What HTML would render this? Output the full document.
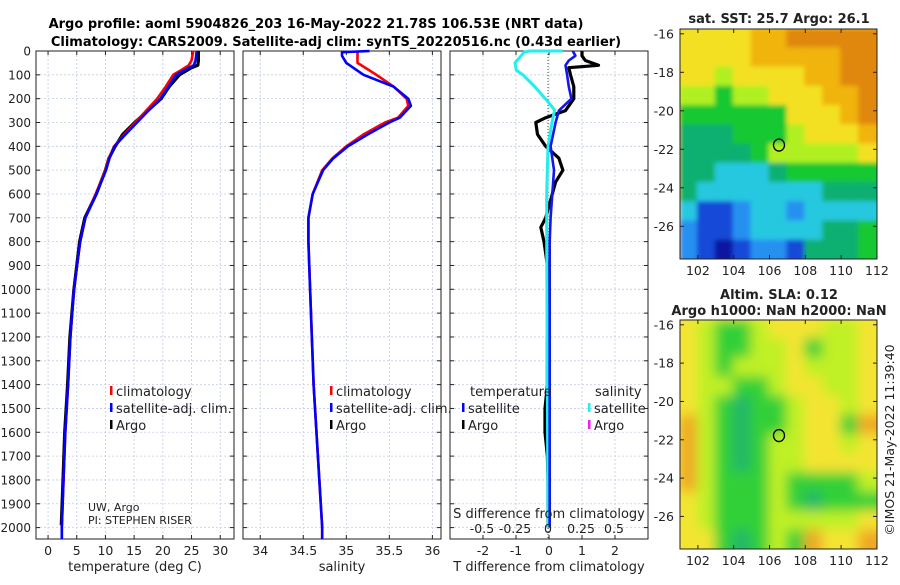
<!DOCTYPE html>
<html><head><meta charset="utf-8"><style>
body{margin:0;background:#fff;font-family:"Liberation Sans","DejaVu Sans",sans-serif;}
svg text{font-family:"DejaVu Sans","Liberation Sans",sans-serif;}
</style></head><body>
<svg id="c" width="900" height="580" xmlns="http://www.w3.org/2000/svg">
<defs>
<filter id="bl" filterUnits="userSpaceOnUse" x="670" y="20" width="220" height="250"><feGaussianBlur stdDeviation="2.5"/></filter>
<filter id="bl2" filterUnits="userSpaceOnUse" x="670" y="310" width="220" height="250"><feGaussianBlur stdDeviation="6"/></filter>
<clipPath id="cm1"><rect x="680" y="29" width="197" height="230"/></clipPath>
<clipPath id="cm2"><rect x="680" y="320" width="197" height="229"/></clipPath>
</defs>
<text x="316" y="28" font-size="13" font-weight="bold" text-anchor="middle">Argo profile: aoml 5904826_203 16-May-2022 21.78S 106.53E (NRT data)</text>
<text x="336" y="46" font-size="13" font-weight="bold" text-anchor="middle">Climatology: CARS2009. Satellite-adj clim: synTS_20220516.nc (0.43d earlier)</text>
</svg>
<script>
const tDepth=[0,40,60,80,100,150,200,250,300,350,400,450,500,600,700,800,1000,1200,1400,1600,1800,2000,2050];
const tClim=[25.3,25.0,24.5,23.2,21.8,20.5,19.0,17.1,15.2,13.3,11.5,10.6,10.0,8.3,6.5,5.6,4.5,3.9,3.5,3.0,2.7,2.4,2.4];
const tSat=[25.9,25.7,25.4,23.8,22.3,21.0,19.6,17.5,15.5,13.5,11.6,10.7,10.1,8.4,6.5,5.6,4.5,3.9,3.5,3.0,2.7,2.4,2.4];
const argoDepth=[0,40,60,70,100,150,200,250,300,350,400,450,500,600,700,800,1000,1200,1400,1600,1800,1990];
const tArgo=[26.2,26.2,26.1,25.0,22.9,21.1,19.7,17.4,15.1,13.0,11.7,10.6,10.0,8.4,6.4,5.5,4.5,3.8,3.4,2.9,2.6,2.3];
const sDepth=[0,5,20,50,100,150,200,230,280,300,350,400,450,500,600,700,800,1000,1400,2000,2050];
const sClim=[35.13,35.13,35.13,35.13,35.35,35.55,35.70,35.72,35.60,35.45,35.20,35.00,34.84,34.72,34.61,34.56,34.56,34.58,34.62,34.72,34.72];
const sSat=[35.27,34.95,34.95,35.00,35.20,35.55,35.72,35.75,35.62,35.50,35.25,35.02,34.85,34.73,34.61,34.56,34.56,34.58,34.62,34.72,34.72];
const dDepth=[0,20,40,60,70,100,150,200,250,280,300,350,400,450,500,550,600,700,740,800,900,1000,1200,1400,1500,1600,1700,1800,1900,1990];
const dTArgo=[1.0,1.0,1.1,1.5,0.6,0.65,0.75,0.75,0.5,-0.1,-0.4,-0.35,-0.1,0.3,0.42,0.2,0.1,-0.1,-0.25,-0.15,-0.05,0,-0.05,-0.05,-0.12,-0.12,-0.05,-0.03,-0.03,-0.03];
const dTDepth=[0,20,40,60,100,150,200,250,300,400,500,600,700,800,1000,2000];
const dTSat=[0.72,0.8,0.6,0.5,0.55,0.6,0.68,0.3,0.2,0.05,0.15,0.1,0.05,0.02,0.02,0.02];
const dSDepth=[0,0,5,50,80,100,150,200,248,300,400,600,800,2000];
const dSSat=[0.11,-0.14,-0.18,-0.25,-0.24,-0.19,-0.1,-0.02,0.05,0.03,0.0,-0.01,-0.01,0.0];
const depthTicks=[0,100,200,300,400,500,600,700,800,900,1000,1100,1200,1300,1400,1500,1600,1700,1800,1900,2000];
const tTicks=[0,5,10,15,20,25,30];
const sTicks=[34,34.5,35,35.5,36];
const sTickLabels=["34","34.5","35","35.5","36"];
const dTTicks=[-2,-1,0,1,2];
const dSTicks=[-0.5,-0.25,0,0.25,0.5];
const sstGrid=[
[8,8,8,8,9,9,10,10,10,10,10],[8,8,8,8,9,9,9,9,9,10,10],[8,8,7,8,8,8,8,9,9,10,10],
[7,7,6,7,7,8,8,8,9,9,10],[6,6,6,6,6,6,8,8,8,9,10],[5,5,5,6,6,6,7,8,8,8,9],
[5,5,5,5,6,7,7,7,7,7,8],[5,5,4,4,4,5,6,6,6,6,6],[5,4,4,4,4,4,4,4,5,5,5],
[4,2,2,3,4,4,3,4,4,4,4],[3,2,2,3,4,4,4,4,5,5,6],[3,2,1,2,3,3,2,5,5,5,6]];
const slaGrid=[
[8,7,6,6,7,8,8,8,7,7,8],[8,7,6,6,7,7,8,6,7,7,8],[8,7,6,7,7,7,8,7,7,7,8],
[8,7,7,6,6,7,8,8,7,7,8],[8,7,6,5,6,6,7,8,8,7,8],[9,7,6,5,6,6,7,8,8,6,9],
[9,7,6,5,6,7,7,8,8,7,8],[9,7,6,5,6,7,7,8,8,8,8],[9,7,6,6,6,7,6,6,6,6,7],
[8,7,6,6,6,7,6,5,6,6,6],[8,7,6,6,6,7,7,7,7,7,8],[8,8,6,5,6,7,6,9,8,8,9]];
const lonTicks=[102,104,106,108,110,112];
const latTicks=[-16,-18,-20,-22,-24,-26];

const svg=document.getElementById('c');
const NS='http://www.w3.org/2000/svg';
function mk(tag,attrs,parent){const e=document.createElementNS(NS,tag);for(const k in attrs)e.setAttribute(k,attrs[k]);(parent||svg).appendChild(e);return e;}
function txt(s,x,y,size,anchor,parent){const e=mk('text',{x:x,y:y,'font-size':size,'text-anchor':anchor||'middle',fill:'#222'},parent);e.textContent=s;return e;}
const yD=d=>51+d*0.2383;
const PY0=51,PY1=539;
const panels=[
 {x0:36,x1:234,vmin:-2.1,vmax:32.4,name:'temperature-panel'},
 {x0:243,x1:441,vmin:33.8,vmax:36.1,name:'salinity-panel'},
 {x0:450,x1:648,vmin:-3,vmax:3,name:'difference-panel'}];
panels.forEach(p=>{p.sx=v=>p.x0+(v-p.vmin)/(p.vmax-p.vmin)*(p.x1-p.x0);});
const xT=panels[0].sx,xS=panels[1].sx,xDT=panels[2].sx,xDS=v=>548+v*132;

panels.forEach((p,i)=>{
 const g=mk('g',{});
 
 
 depthTicks.forEach(d=>{
  const l=mk('line',{x1:p.x0,x2:p.x1,y1:yD(d),y2:yD(d),stroke:'#c4cbe6','stroke-width':0.8,'stroke-dasharray':'2,2'},g);
  
  
  mk('line',{x1:p.x0,x2:p.x0+4,y1:yD(d),y2:yD(d),stroke:'#222'},g);
  mk('line',{x1:p.x1-4,x2:p.x1,y1:yD(d),y2:yD(d),stroke:'#222'},g);
  if(i===0){const t=txt(String(d),31,yD(d)+4.5,12,'end',g);
   
   }
 });
 const ticks=i===0?tTicks:i===1?sTicks:dTTicks;
 ticks.forEach((v,j)=>{
  const x=p.sx(v);
  const l=mk('line',{x1:x,x2:x,y1:PY0,y2:PY1,stroke:'#c4cbe6','stroke-width':0.8,'stroke-dasharray':'2,2'},g);
  
  
  mk('line',{x1:x,x2:x,y1:PY1-4,y2:PY1,stroke:'#222'},g);
  mk('line',{x1:x,x2:x,y1:PY0,y2:PY0+4,stroke:'#222'},g);
  const t=txt(i===1?sTickLabels[j]:String(v),x,555,12.5,'middle',g);
  
  
 });
 const b=mk('rect',{x:p.x0,y:PY0,width:p.x1-p.x0,height:PY1-PY0,fill:'none',stroke:'#222','stroke-width':1},g);
 
 
});
[['temperature (deg C)',135],['salinity',342],['T difference from climatology',549]].forEach(a=>{
 const t=txt(a[0],a[1],571,13);
 
 
});
const zl=mk('line',{x1:548,x2:548,y1:PY0,y2:PY1,stroke:'#335533','stroke-width':1,'stroke-dasharray':'1,2'});



function line(xs,ds,fx,color,w,name){
 const pts=xs.map((v,k)=>fx(v).toFixed(1)+','+yD(ds[k]).toFixed(1)).join(' ');
 const e=mk('polyline',{points:pts,fill:'none',stroke:color,'stroke-width':w,'stroke-linejoin':'round'});
 
 
}
line(tArgo,argoDepth,xT,'#000',3.2,'argo-temperature-line');
line(tClim,tDepth,xT,'#f00',2.6,'climatology-temperature-line');
line(tSat,tDepth,xT,'#00f',2.6,'satellite-temperature-line');
line(sClim,sDepth,xS,'#f00',2.6,'climatology-salinity-line');
line(sSat,sDepth,xS,'#00f',2.6,'satellite-salinity-line');
line(dTArgo,dDepth,xDT,'#000',3.2,'argo-temperature-difference-line');
line(dSSat,dSDepth,xDS,'#22eeee',3,'satellite-salinity-difference-line');
line(dTSat,dTDepth,xDT,'#1515ee',2.6,'satellite-temperature-difference-line');

const sl=txt('S difference from climatology',549,518,13);


dSTicks.forEach(v=>{const t=txt(String(v),xDS(v),533,12.5);
 
 });

function legendEntry(x,y,color,label,name){
 const g=mk('g',{});
 
 
 mk('rect',{x:x,y:y-10,width:2.5,height:9,fill:color},g);
 txt(label,x+6,y,13,'start',g);
}
legendEntry(110,396,'#f00','climatology','legend-climatology');
legendEntry(110,413,'#00f','satellite-adj. clim.','legend-satellite-adj');
legendEntry(110,430,'#000','Argo','legend-argo');
legendEntry(330,396,'#f00','climatology','legend-climatology-2');
legendEntry(330,413,'#00f','satellite-adj. clim.','legend-satellite-adj-2');
legendEntry(330,430,'#000','Argo','legend-argo-2');
const lt=txt('temperature',470,396,13,'start');


const ls=txt('salinity',595,396,13,'start');


legendEntry(462,413,'#00f','satellite','legend-t-satellite');
legendEntry(462,430,'#000','Argo','legend-t-argo');
legendEntry(588,413,'#22eeee','satellite','legend-s-satellite');
legendEntry(588,430,'#ee22ee','Argo','legend-s-argo');
const pi=txt('UW, Argo',88,511,11,'start');


const pi2=txt('PI: STEPHEN RISER',88,524,11,'start');



const sstCol={1:'#0818a0',2:'#1848d8',3:'#2890f0',4:'#28c8e0',5:'#10b070',6:'#18c830',7:'#b0f020',8:'#f4e020',9:'#f0b408',10:'#e08808'};
const slaCol={5:'#20b868',6:'#30d038',7:'#c0f028',8:'#f4e430',9:'#f0a828'};
function drawMap(grid,cols,top,bottom,clip,filt,name,title1,title2){
 const lx=lon=>680+(lon-101)*17.9;
 const ly=lat=>top+(-15.75-lat)*((bottom-top)/11.95);
 const g=mk('g',{'clip-path':'url(#'+clip+')'});
 
 
 const inner=mk('g',{filter:'url(#'+filt+')'},g);
 mk('rect',{x:670,y:top-10,width:220,height:bottom-top+20,fill:cols[grid[0][0]]},inner);
 grid.forEach((row,r)=>row.forEach((v,c)=>{
  const x0=lx(101+c)-1,y0=ly(-15.75-r)-1;
  const w=(c===row.length-1?lx(113):lx(102+c))-x0+1;
  const h=(r===grid.length-1?ly(-29):ly(-16.75-r))-y0+1;
  const cell=mk('rect',{x:x0,y:y0,width:w,height:h,fill:cols[v]},inner);
  
  
 }));
 const fr=mk('rect',{x:680,y:top,width:197,height:bottom-top,fill:'none',stroke:'#222'});
 
 
 lonTicks.forEach(v=>{const x=lx(v);
  mk('line',{x1:x,x2:x,y1:bottom,y2:bottom-4,stroke:'#222'});
  mk('line',{x1:x,x2:x,y1:top,y2:top+4,stroke:'#222'});
  const t=txt(String(v),x,bottom+16,12.5);
  
  });
 latTicks.forEach(v=>{const y=ly(v);
  mk('line',{x1:680,x2:684,y1:y,y2:y,stroke:'#222'});
  mk('line',{x1:873,x2:877,y1:y,y2:y,stroke:'#222'});
  const t=txt(String(v),674,y+4.5,12.5,'end');
  
  });
 const ci=mk('ellipse',{cx:lx(106.53),cy:ly(-21.78),rx:5.5,ry:6,fill:'none',stroke:'#000','stroke-width':1.3});
 
 
 const t1=txt(title1,779,top-(title2?21:6),13);t1.setAttribute('font-weight','bold');
 
 
 if(title2){const t2=txt(title2,779,top-5,13);t2.setAttribute('font-weight','bold');
  
  }
}
drawMap(sstGrid,sstCol,29,259,'cm1','bl','sst-map','sat. SST: 25.7 Argo: 26.1');
drawMap(slaGrid,slaCol,320,549,'cm2','bl2','sla-map','Altim. SLA: 0.12','Argo h1000: NaN h2000: NaN');
const cr=txt('©IMOS 21-May-2022 11:39:40',0,0,12.5);
cr.setAttribute('transform','translate(894,440) rotate(-90)');


</script>
</body></html>
